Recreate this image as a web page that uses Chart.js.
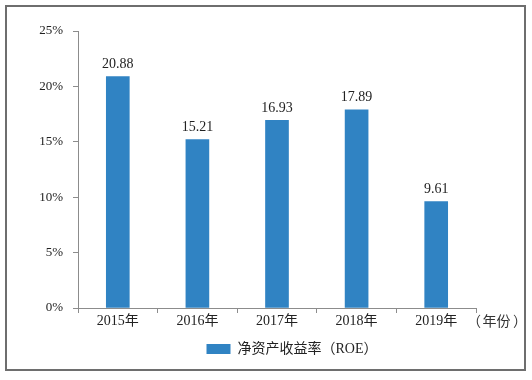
<!DOCTYPE html>
<html>
<head>
<meta charset="utf-8">
<script src="https://cdn.jsdelivr.net/npm/chart.js@4/dist/chart.umd.min.js"></script>
<style>
    html, body { margin: 0; padding: 0; background: #fff; }
    #wrap { width: 532px; height: 380px; }
</style>
</head>
<body>
<div id="wrap"><canvas id="chart" width="532" height="380"></canvas></div>
<script>
const years = ['2015年', '2016年', '2017年', '2018年', '2019年'];
const roeValues = [20.88, 15.21, 16.93, 17.89, 9.61];
const seriesName = '净资产收益率（ROE）';
const xUnitParts = ['（', '年份', '）'];

const fontFamily = '"Liberation Serif", "Times New Roman", "Noto Sans CJK SC", serif';
const cjkFamily = '"Noto Sans CJK SC", sans-serif';
const axisColor = '#8c8c8c';

const decorations = {
    id: 'decorations',
    afterLayout(chart) {
        // the legend sits right of centre in the original
        const legend = chart.legend;
        legend.left += 49;
        legend.right += 49;
    },
    afterDraw(chart) {
        const { ctx, chartArea } = chart;
        ctx.save();
        // outer frame
        ctx.strokeStyle = '#6e6e6e';
        ctx.lineWidth = 2;
        ctx.strokeRect(6, 6, 519, 364);

        // value labels
        const meta = chart.getDatasetMeta(0);
        ctx.fillStyle = '#222';
        ctx.font = `14px ${fontFamily}`;
        ctx.textAlign = 'center';
        ctx.textBaseline = 'bottom';
        meta.data.forEach((bar, i) => {
            ctx.fillText(roeValues[i].toFixed(2), bar.x, bar.y - 5);
        });

        // x unit label, spaced out like the original
        const y = chartArea.bottom + 13;
        const x = chartArea.right;
        ctx.font = `14px ${cjkFamily}`;
        ctx.fillStyle = '#333';
        ctx.textBaseline = 'middle';
        ctx.textAlign = 'right';
        ctx.fillText(xUnitParts[0], x + 5, y);
        ctx.textAlign = 'center';
        ctx.fillText(xUnitParts[1], x + 20.5, y);
        ctx.textAlign = 'left';
        ctx.fillText(xUnitParts[2], x + 37, y);
        ctx.restore();
    },
};

new Chart(document.getElementById('chart'), {
    type: 'bar',
    data: {
        labels: years,
        datasets: [
            {
                label: seriesName,
                data: roeValues,
                backgroundColor: '#3083c3',
                borderWidth: 0,
                barThickness: 23,
            },
        ],
    },
    options: {
        responsive: false,
        animation: false,
        layout: {
            padding: { top: 31, right: 56, bottom: 14, left: 10 },
        },
        plugins: {
            legend: {
                position: 'bottom',
                labels: {
                    boxWidth: 24,
                    boxHeight: 10,
                    color: '#222',
                    font: { family: fontFamily, size: 14 },
                    padding: 8,
                },
            },
            tooltip: { enabled: false },
        },
        scales: {
            x: {
                offset: true,
                border: { color: axisColor, width: 1 },
                grid: {
                    offset: true,
                    drawOnChartArea: false,
                    drawTicks: true,
                    tickLength: 5,
                    color: axisColor,
                },
                ticks: {
                    color: '#222',
                    padding: 0,
                    font: { family: fontFamily, size: 14 },
                    maxRotation: 0,
                },
                afterFit(scale) {
                    scale.height = 26;
                },
            },
            y: {
                min: 0,
                max: 25,
                border: { color: axisColor, width: 1 },
                grid: {
                    drawOnChartArea: false,
                    drawTicks: true,
                    tickLength: 5,
                    color: axisColor,
                },
                ticks: {
                    stepSize: 5,
                    color: '#222',
                    padding: 10,
                    font: { family: fontFamily, size: 13 },
                    callback(value) {
                        return `${value}%`;
                    },
                },
                afterFit(scale) {
                    scale.width = 68;
                },
            },
        },
    },
    plugins: [decorations],
});
</script>
</body>
</html>
